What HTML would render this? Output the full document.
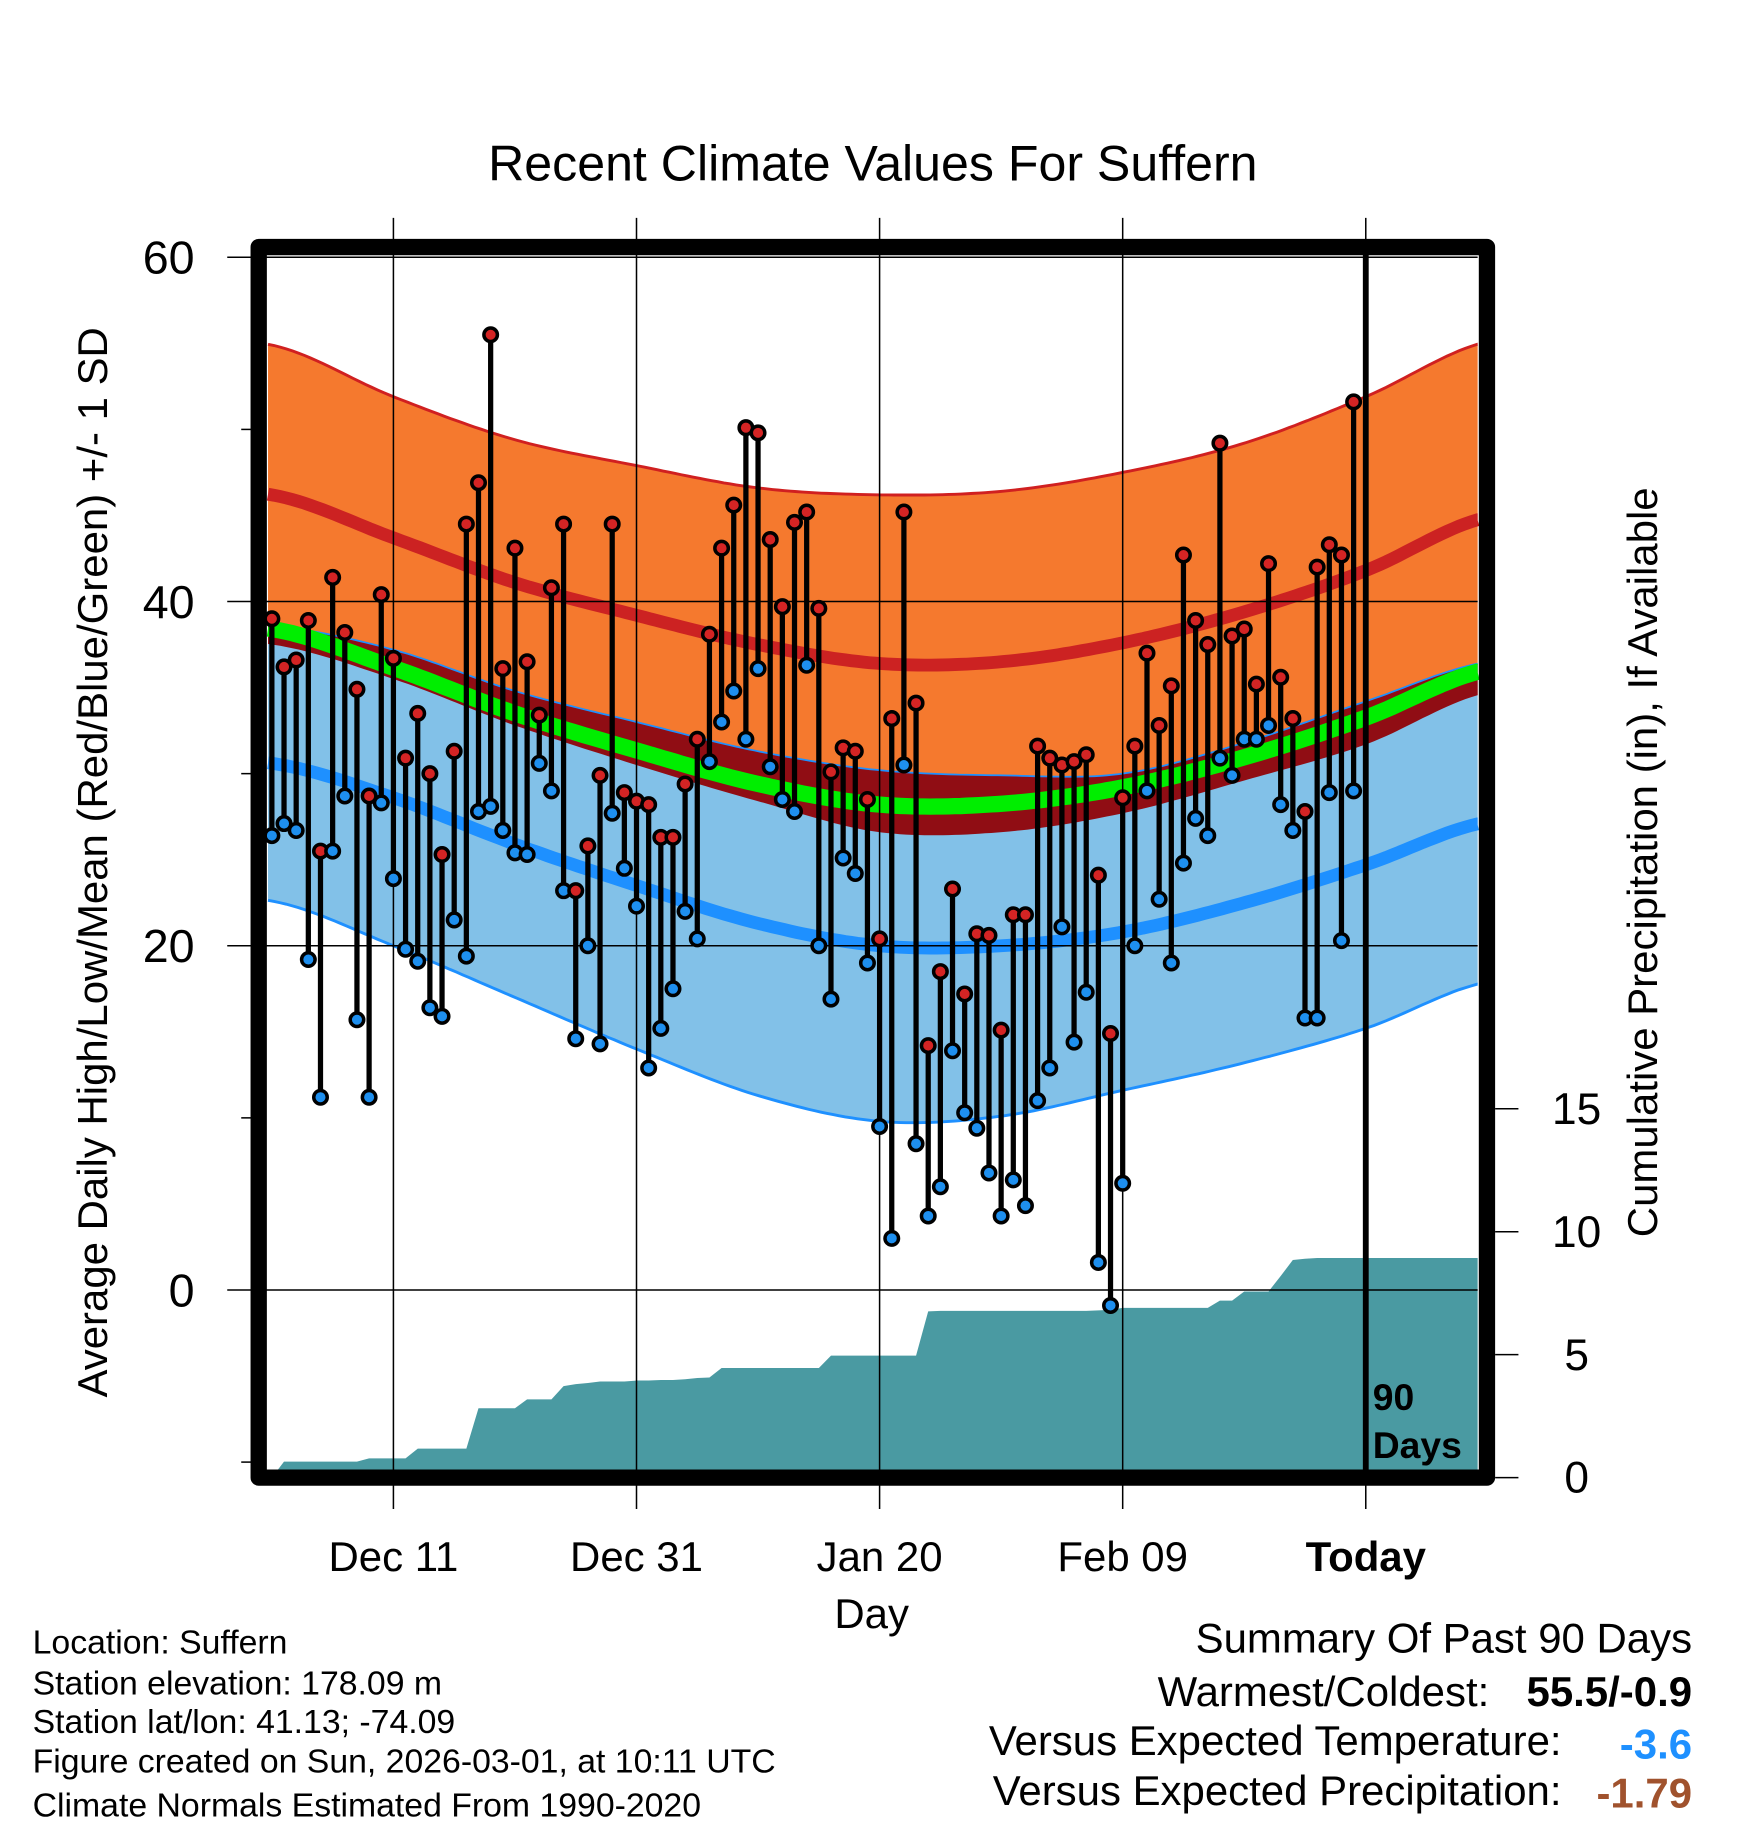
<!DOCTYPE html>
<html><head><meta charset="utf-8"><style>
html,body{margin:0;padding:0;background:#fff;}
svg{display:block;font-family:"Liberation Sans",Arial,sans-serif;}
</style></head><body>
<svg id="chart" width="1748" height="1828" viewBox="0 0 1500 1568.7" preserveAspectRatio="none" xmlns="http://www.w3.org/2000/svg">
<g id="fills"></g><g id="grid"></g><g id="marks"></g><g id="frame"></g>
<text x="749" y="155" font-size="43" text-anchor="middle">Recent Climate Values For Suffern</text>
<text transform="translate(92,740) rotate(-90)" font-size="36" text-anchor="middle">Average Daily High/Low/Mean (Red/Blue/Green) +/- 1 SD</text>
<text transform="translate(1422,740) rotate(-90)" font-size="36" text-anchor="middle">Cumulative Precipitation (in), If Available</text>
<text x="748" y="1397" font-size="36" text-anchor="middle">Day</text>
<g font-size="29">
<text x="28" y="1419">Location: Suffern</text>
<text x="28" y="1454">Station elevation: 178.09 m</text>
<text x="28" y="1487">Station lat/lon: 41.13; -74.09</text>
<text x="28" y="1521">Figure created on Sun, 2026-03-01, at 10:11 UTC</text>
<text x="28" y="1559">Climate Normals Estimated From 1990-2020</text>
</g>
<g font-size="36">
<text x="1452" y="1418" text-anchor="end">Summary Of Past 90 Days</text>
<text x="1278" y="1464" text-anchor="end">Warmest/Coldest:</text>
<text x="1452" y="1464" text-anchor="end" font-weight="bold">55.5/-0.9</text>
<text x="1340" y="1506" text-anchor="end">Versus Expected Temperature:</text>
<text x="1452" y="1509" text-anchor="end" font-weight="bold" fill="#1e90ff">-3.6</text>
<text x="1340" y="1549" text-anchor="end">Versus Expected Precipitation:</text>
<text x="1452" y="1551" text-anchor="end" font-weight="bold" fill="#a0522d">-1.79</text>
</g>
</svg>
<script>
// Normals sampled every 10 days (day 0 = 90 days before today)
const normDays = [0,10,20,30,40,50,60,70,80,90,100];
const hiMean = [46.2,43.7,41.1,39.2,37.5,36.4,36.5,37.6,39.4,41.8,44.9];
const hiSD   = [8.7,8.2,8.3,8.7,9.1,9.8,9.9,9.9,9.8,10.1,10.2];
const loMean = [30.6,28.6,25.9,23.5,21.3,20.0,20.0,20.8,22.5,24.7,27.2];
const loSD   = [8.0,8.6,8.9,9.5,10.0,10.2,9.9,9.2,9.3,9.5,9.3];
// Observed daily highs / lows
const highs = [39.0,36.2,36.6,38.9,25.5,41.4,38.2,34.9,28.7,40.4,36.7,30.9,33.5,30.0,25.3,31.3,44.5,46.9,55.5,36.1,43.1,36.5,33.4,40.8,44.5,23.2,25.8,29.9,44.5,28.9,28.4,28.2,26.3,26.3,29.4,32.0,38.1,43.1,45.6,50.1,49.8,43.6,39.7,44.6,45.2,39.6,30.1,31.5,31.3,28.5,20.4,33.2,45.2,34.1,14.2,18.5,23.3,17.2,20.7,20.6,15.1,21.8,21.8,31.6,30.9,30.5,30.7,31.1,24.1,14.9,28.6,31.6,37.0,32.8,35.1,42.7,38.9,37.5,49.2,38.0,38.4,35.2,42.2,35.6,33.2,27.8,42.0,43.3,42.7,51.6];
const lows = [26.4,27.1,26.7,19.2,11.2,25.5,28.7,15.7,11.2,28.3,23.9,19.8,19.1,16.4,15.9,21.5,19.4,27.8,28.1,26.7,25.4,25.3,30.6,29.0,23.2,14.6,20.0,14.3,27.7,24.5,22.3,12.9,15.2,17.5,22.0,20.4,30.7,33.0,34.8,32.0,36.1,30.4,28.5,27.8,36.3,20.0,16.9,25.1,24.2,19.0,9.5,3.0,30.5,8.5,4.3,6.0,13.9,10.3,9.4,6.8,4.3,6.4,4.9,11.0,12.9,21.1,14.4,17.3,1.6,-0.9,6.2,20.0,29.0,22.7,19.0,24.8,27.4,26.4,30.9,29.9,32.0,32.0,32.8,28.2,26.7,15.8,15.8,28.9,20.3,29.0];
// Cumulative precipitation (in)
const precip = [0,0.65,0.65,0.65,0.65,0.65,0.65,0.65,0.78,0.78,0.78,0.78,1.18,1.18,1.18,1.18,1.18,2.82,2.82,2.82,2.82,3.18,3.18,3.18,3.72,3.80,3.85,3.91,3.91,3.91,3.95,3.95,3.97,3.97,4.00,4.05,4.07,4.46,4.46,4.46,4.46,4.46,4.46,4.46,4.46,4.46,4.96,4.96,4.96,4.96,4.96,4.96,4.96,4.96,6.76,6.78,6.78,6.78,6.78,6.78,6.78,6.78,6.78,6.78,6.78,6.78,6.78,6.78,6.80,6.82,6.90,6.90,6.90,6.90,6.90,6.90,6.90,6.90,7.20,7.20,7.57,7.57,7.57,8.20,8.85,8.90,8.93,8.93,8.93,8.93];
const yTicks = [0,20,40,60];
const yMinor = [-10,10,30,50];
const pTicks = [0,5,10,15];
const xTickDays = [10,30,50,70,90];
const xTickLabels = ["Dec 11","Dec 31","Jan 20","Feb 09","Today"];

const NS="http://www.w3.org/2000/svg";
const X0=230, X1=1268, Y0=212, Y1=1268;
const x = d => 1172 + (d-90)*10.43;
const y = v => 1107 - v*14.77;
const py = p => 1268 - p*21.1;
const dStart=(X0-1172)/10.43+90, dEnd=(X1-1172)/10.43+90;
function mk(tag,attrs,parent){const e=document.createElementNS(NS,tag);for(const k in attrs)e.setAttribute(k,attrs[k]);(parent||document.getElementById('chart')).appendChild(e);return e;}
function interp(arr,d){
 const n=arr.length;let i=Math.floor((d-normDays[0])/10);if(i<0)i=0;if(i>n-2)i=n-2;
 const t=(d-normDays[i])/(normDays[i+1]-normDays[i]);
 const p0=arr[Math.max(i-1,0)],p1=arr[i],p2=arr[i+1],p3=arr[Math.min(i+2,n-1)];
 const t2=t*t,t3=t2*t;
 return 0.5*((2*p1)+(-p0+p2)*t+(2*p0-5*p1+4*p2-p3)*t2+(-p0+3*p1-3*p2+p3)*t3);
}
const sd=[];for(let d=dStart;d<dEnd;d+=0.5)sd.push(d);sd.push(dEnd);
function curve(fn){return sd.map(d=>[x(d),y(fn(d))]);}
function band(top,bot){return top.concat(bot.slice().reverse()).map(p=>p[0].toFixed(1)+','+p[1].toFixed(1)).join(' ');}
const hm=d=>interp(hiMean,d), hs=d=>interp(hiSD,d), lm=d=>interp(loMean,d), ls=d=>interp(loSD,d);
const fills=document.getElementById('fills');
const hiUp=curve(d=>hm(d)+hs(d)), hiDn=curve(d=>hm(d)-hs(d)), loUp=curve(d=>lm(d)+ls(d)), loDn=curve(d=>lm(d)-ls(d));
let e;
e=mk('polygon',{points:band(hiUp,hiDn),fill:'#f5792e'},fills);


e=mk('polygon',{points:band(loUp,loDn),fill:'#82c1e8'},fills);


const ovTop=sd.map(d=>[x(d),y(Math.max(lm(d)+ls(d),hm(d)-hs(d)))]);
e=mk('polygon',{points:band(ovTop,hiDn),fill:'#900d14'},fills);


const pl=a=>a.map(p=>p[0].toFixed(1)+','+p[1].toFixed(1)).join(' ');
e=mk('polyline',{points:pl(hiUp),fill:'none',stroke:'#d02020','stroke-width':2.5},fills);


e=mk('polyline',{points:pl(loDn),fill:'none',stroke:'#1e90ff','stroke-width':2.5},fills);


e=mk('polyline',{points:pl(loUp),fill:'none',stroke:'#1e90ff','stroke-width':1.5},fills);


e=mk('polyline',{points:pl(curve(hm)),fill:'none',stroke:'#cc2222','stroke-width':11},fills);


e=mk('polyline',{points:pl(curve(lm)),fill:'none',stroke:'#1e90ff','stroke-width':11},fills);


e=mk('polyline',{points:pl(curve(d=>(hm(d)+lm(d))/2)),fill:'none',stroke:'#00ee00','stroke-width':14},fills);


// precip area
let pp=[[x(0),Y1]];precip.forEach((p,i)=>pp.push([x(i),py(p)]));pp.push([X1,py(precip[precip.length-1])]);pp.push([X1,Y1]);
e=mk('polygon',{points:pl(pp),fill:'#4a9aa2'},fills);


// grid
const grid=document.getElementById('grid');
yTicks.forEach(v=>{
 e=mk('line',{x1:195,x2:X1,y1:y(v),y2:y(v),stroke:'#000','stroke-width':1.3},grid);
 
 
 e=mk('text',{x:167,y:y(v)+14,'font-size':40,'text-anchor':'end'},grid);e.textContent=v;
 
 
});
yMinor.forEach(v=>{
 e=mk('line',{x1:207,x2:216,y1:y(v),y2:y(v),stroke:'#000','stroke-width':1.3},grid);
 
 
});
pTicks.forEach(p=>{
 e=mk('line',{x1:1283,x2:1303,y1:py(p),y2:py(p),stroke:'#000','stroke-width':1.3},grid);
 
 
 e=mk('text',{x:1353,y:py(p)+13,'font-size':38,'text-anchor':'middle'},grid);e.textContent=p;
 
 
});
xTickDays.forEach((d,i)=>{
 e=mk('line',{x1:x(d),x2:x(d),y1:187,y2:1295,stroke:'#000','stroke-width':1.3},grid);
 
 
 e=mk('text',{x:x(d),y:1348,'font-size':36,'text-anchor':'middle','font-weight':i==4?'bold':'normal'},grid);e.textContent=xTickLabels[i];
 
 
});
// marks
const marks=document.getElementById('marks');
highs.forEach((h,i)=>{
 e=mk('line',{x1:x(i),x2:x(i),y1:y(h),y2:y(lows[i]),stroke:'#000','stroke-width':4.5},marks);
 
 
});
highs.forEach((h,i)=>{
 e=mk('circle',{cx:x(i),cy:y(h),r:5.8,fill:'#d42424',stroke:'#000','stroke-width':3},marks);
 
 
 e=mk('circle',{cx:x(i),cy:y(lows[i]),r:5.8,fill:'#1e8fef',stroke:'#000','stroke-width':3},marks);
 
 
});
// frame & today
const fr=document.getElementById('frame');
e=mk('line',{x1:x(90),x2:x(90),y1:Y0,y2:Y1,stroke:'#000','stroke-width':5},fr);


e=mk('rect',{x:222,y:212,width:1054,height:1056,fill:'none',stroke:'#000','stroke-width':14,'stroke-linejoin':'round'},fr);


e=mk('text',{x:1178,y:1210,'font-size':32,'font-weight':'bold'},fr);e.textContent='90';


e=mk('text',{x:1178,y:1251,'font-size':32,'font-weight':'bold'},fr);e.textContent='Days';


</script>
</body></html>
